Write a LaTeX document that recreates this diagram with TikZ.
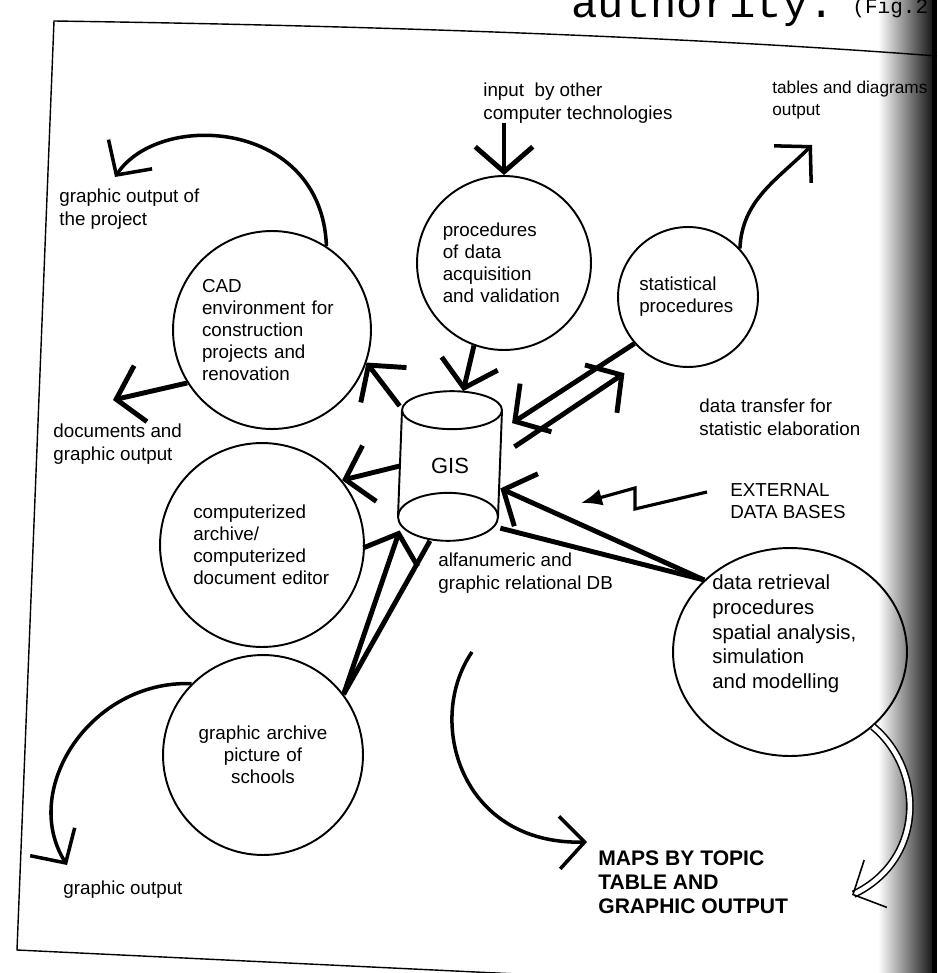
\documentclass[tikz,border=0pt]{standalone}
\usepackage{fontspec}
\setmainfont{Liberation Sans}
\setmonofont{Liberation Mono}
\usetikzlibrary{arrows.meta,shapes.geometric,calc}
\newcommand{\figfont}{\fontsize{10.7}{12.6}\selectfont}
\newcommand{\tabfont}{\fontsize{9.8}{12.6}\selectfont}
\newcommand{\retrfont}{\fontsize{11.6}{14.2}\selectfont}
\newcommand{\gisfont}{\fontsize{12.5}{14}\selectfont}
\newcommand{\mapsfont}{\fontsize{12}{13.7}\selectfont\bfseries}
\newcommand{\pagefont}{\ttfamily\fontsize{25}{28}\selectfont}
\newcommand{\pagesmallfont}{\ttfamily\fontsize{12}{14}\selectfont}
\hyphenpenalty=10000
\tikzset{
  proc/.style={circle,draw,line width=1.1pt,inner sep=0pt,align=left,
    font=\figfont,text width=#1},
  proc/.default=2.6cm,
  lbl/.style={anchor=north west,inner sep=0pt,align=left,font=\figfont},
  fatarrow/.style={line width=2.8pt,-{Straight Barb[length=0.5cm,width=1.15cm]}},
  fatline/.style={line width=2.8pt},
  bendarrow/.style={line width=2pt,-{Straight Barb[length=0.5cm,width=1.05cm]}},
  zigarrow/.style={line width=1.8pt,-{Latex[length=0.42cm,width=0.34cm]}},
  hollowarrow/.style={line width=0.9pt,double=white,double distance=2.6pt,
    -{Straight Barb[length=0.5cm,width=1.05cm]}},
  cyl/.style={line width=1.1pt}
}
\begin{document}
\begin{tikzpicture}[x=0.02cm,y=-0.02cm]
  \useasboundingbox (0,0) rectangle (937,973);
  \clip (0,0) rectangle (937,973);
  \shade[left color=white,right color=black!90] (878,0) rectangle (932,973);
  \fill[black] (932,0) rectangle (937,973);
  \draw[line width=0.8pt] (937,56) .. controls (700,38) and (400,26) .. (54,21)
    -- (17,950) -- (580,977);
  \node[anchor=base west,inner sep=0pt,font=\pagefont] (pagetxt) at (571,18) {authority.};
  \node[anchor=base west,inner sep=0pt,font=\pagesmallfont] (figtxt) at (852,14) {(Fig.2};

  \node[proc=2.8cm,minimum size=3.96cm] (cad) at (272,330)
    {CAD\\environment for\\construction\\projects and\\renovation};
  \node[proc=2.45cm,minimum size=3.48cm] (acq) at (504,263)
    {procedures\\of data\\acquisition\\and validation};
  \node[proc=1.95cm,minimum size=2.8cm] (stat) at (688,297)
    {statistical\\procedures};
  \node[proc=2.75cm,minimum size=4.08cm] (arch) at (262,545)
    {computerized\\archive/\\computerized\\document editor};
  \node[proc=2.7cm,minimum size=4cm,align=center] (pict) at (263,755)
    {graphic archive\\picture of\\schools};
  \node[ellipse,draw,line width=1.1pt,minimum width=4.68cm,minimum height=4.16cm]
    (retr) at (790,652) {};
  \node[lbl,font=\retrfont] (retrtxt) at (712,574)
    {data retrieval\\procedures\\spatial analysis,\\simulation\\and modelling};

  \node[minimum width=2cm,minimum height=2.98cm,inner sep=0pt,font=\gisfont]
    (gis) at (450,466) {GIS};
  \coordinate (gtop) at ($(gis.north)+(2,19)$);
  \coordinate (gbot) at ($(gis.south)+(-2,-24)$);
  \draw[cyl] (gtop) ellipse [x radius=1cm,y radius=0.38cm];
  \draw[cyl] (gbot) ellipse [x radius=1cm,y radius=0.48cm];
  \draw[cyl] ($(gtop)+(-50,0)$) -- ($(gbot)+(-50,0)$)
    ($(gtop)+(50,0)$) -- ($(gbot)+(50,0)$);

  \node[lbl] (inputlbl) at (483,83) {input\ \ by other\\computer technologies};
  \node[lbl,font=\tabfont] (tablbl) at (772,81) {tables and diagrams\\output};
  \node[lbl] (projlbl) at (59,189) {graphic output of\\the project};
  \node[lbl] (doclbl) at (53,424) {documents and\\graphic output};
  \node[lbl] (goutlbl) at (63,881) {graphic output};
  \node[lbl] (translbl) at (699,399) {data transfer for\\statistic elaboration};
  \node[lbl] (extlbl) at (730,483) {EXTERNAL\\DATA BASES};
  \node[lbl] (dblbl) at (438,553) {alfanumeric and\\graphic relational DB};
  \node[lbl,font=\mapsfont] (mapslbl) at (598,850)
    {MAPS BY TOPIC\\TABLE AND\\GRAPHIC OUTPUT};

  \coordinate (projtip) at (115,177);
  \coordinate (doctip) at (113,400);
  \coordinate (gouttip) at (67,865);
  \coordinate (tabtip) at (812,145);
  \coordinate (mapsfrom) at (472,652);
  \coordinate (mapstip) at (587,842);
  \coordinate (retrtip) at (852,895);
  \coordinate (zigtip) at (581,503);

  \draw[fatarrow] (inputlbl.south west -| acq.north) -- (acq.north);
  \draw[fatarrow] (acq.250) -- (gis.80);
  \draw[fatarrow] (gis.130) -- (cad.-19);
  \draw[fatarrow] (gis.west) -- (arch.39);
  \draw[fatarrow] (pict.37) -- (gis.232);
  \draw[fatline] (pict.37) -- (gis.255);
  \draw[fatarrow,shorten >=0.28cm] (stat.221) -- (gis.35);
  \draw[fatarrow,shorten <=0.34cm,shorten >=0.6cm] (gis.11) -- (stat.237);
  \draw[fatarrow] (retr.140) -- (gis.-24);
  \draw[fatline] (retr.140) -- (gis.-51);
  \draw[zigarrow] (extlbl.west) ++(-23,-9) -- ++(-72,17) -- ++(0,-21) -- (zigtip);
  \draw[fatarrow] (cad.212) -- (doctip);
  \draw[bendarrow] (cad.57) .. controls (322,120) and (160,110) .. (projtip);
  \draw[bendarrow] (pict.135) .. controls (90,680) and (20,790) .. (gouttip);
  \draw[bendarrow] (stat.43) .. controls (742,200) and (777,180) .. (tabtip);
  \draw[bendarrow] (mapsfrom) .. controls (425,720) and (460,845) .. (mapstip);
  \draw[hollowarrow] (retr.-42) .. controls (925,770) and (925,860) .. (retrtip);
\end{tikzpicture}
\end{document}
